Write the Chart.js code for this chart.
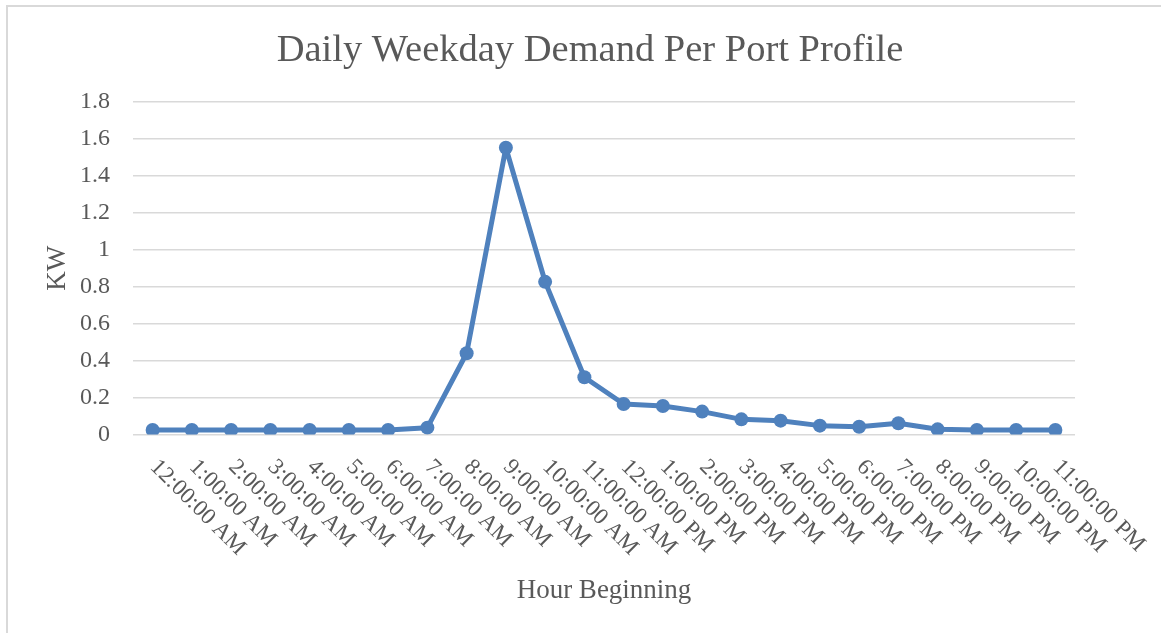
<!DOCTYPE html>
<html>
<head>
<meta charset="utf-8">
<script src="https://cdn.jsdelivr.net/npm/chart.js@4"></script>
<style>
  html, body { margin: 0; padding: 0; background: #fff; }
  #wrap { position: relative; width: 1161px; height: 633px; overflow: hidden; }
  #frame { position: absolute; left: 6px; top: 5px; width: 1200px; height: 700px;
           border: 2px solid #d9d9d9; pointer-events: none; }
</style>
</head>
<body>
<div id="wrap">
  <canvas id="chart" width="1161" height="633"></canvas>
  <div id="frame"></div>
</div>
<script>
// hours of the day
var hours = [
  "12:00:00 AM", "1:00:00 AM", "2:00:00 AM", "3:00:00 AM", "4:00:00 AM", "5:00:00 AM",
  "6:00:00 AM", "7:00:00 AM", "8:00:00 AM", "9:00:00 AM", "10:00:00 AM", "11:00:00 AM",
  "12:00:00 PM", "1:00:00 PM", "2:00:00 PM", "3:00:00 PM", "4:00:00 PM", "5:00:00 PM",
  "6:00:00 PM", "7:00:00 PM", "8:00:00 PM", "9:00:00 PM", "10:00:00 PM", "11:00:00 PM"
];

// kW per port
var demand = [
  0.024, 0.024, 0.024, 0.024, 0.024, 0.024, 0.024, 0.037, 0.44, 1.553, 0.827, 0.31,
  0.165, 0.154, 0.124, 0.082, 0.075, 0.048, 0.042, 0.061, 0.028, 0.024, 0.024, 0.024
];

var yTickLabels = ["0", "0.2", "0.4", "0.6", "0.8", "1", "1.2", "1.4", "1.6", "1.8"];

var textColor = "#595959";
var serif = "'Liberation Serif', 'Times New Roman', serif";

// x labels rotated downward from each tick (Chart.js only rotates the other way)
var slantLabels = {
  id: "slantLabels",
  afterDraw: function (chart) {
    var xs = chart.scales.x;
    var ctx = chart.ctx;
    ctx.save();
    ctx.font = "23px " + serif;
    ctx.fillStyle = textColor;
    ctx.textAlign = "left";
    ctx.textBaseline = "middle";
    for (var i = 0; i < hours.length; i++) {
      var x = xs.getPixelForTick(i);
      ctx.save();
      ctx.translate(x + 1, xs.top + 29);
      ctx.rotate(Math.PI / 4);
      ctx.fillText(hours[i], 0, 0);
      ctx.restore();
    }
    ctx.restore();
  },
};

var ctx = document.getElementById("chart").getContext("2d");
var graph = new Chart(ctx, {
  type: "line",
  data: {
    labels: hours,
    datasets: [
      {
        label: "KW",
        data: demand,
        borderColor: "#4f81bd",
        backgroundColor: "#4f81bd",
        borderWidth: 5,
        borderJoinStyle: "round",
        borderCapStyle: "round",
        pointRadius: 7,
        pointBorderWidth: 0,
        pointBackgroundColor: "#4f81bd",
        tension: 0,
      },
    ],
  },
  options: {
    responsive: false,
    animation: false,
    layout: {
      padding: { left: 19, right: 0, top: 0, bottom: 0 },
    },
    plugins: {
      legend: { display: false },
      tooltip: { enabled: false },
      title: {
        display: true,
        text: "Daily Weekday Demand Per Port Profile",
        color: textColor,
        font: { family: serif, size: 38.5, weight: "normal" },
        padding: { top: 28, bottom: 28 },
      },
    },
    scales: {
      x: {
        offset: true,
        grid: { display: false },
        border: { display: false },
        ticks: { display: false },
        title: {
          display: true,
          text: "Hour Beginning",
          color: textColor,
          font: { family: serif, size: 27 },
          padding: { top: 0, bottom: 26 },
        },
        afterFit: function (scale) {
          scale.height = 198.5;
        },
      },
      y: {
        min: 0,
        max: 1.8,
        border: { display: false },
        grid: { color: "#d9d9d9", lineWidth: 1.5, drawTicks: false },
        ticks: {
          stepSize: 0.2,
          padding: 23,
          color: textColor,
          font: { family: serif, size: 24 },
          callback: function (value, index) {
            return yTickLabels[index];
          },
        },
        title: {
          display: true,
          text: "KW",
          color: textColor,
          font: { family: serif, size: 27 },
          padding: { top: 23, bottom: 0 },
        },
        afterFit: function (scale) {
          scale.width = 114;
        },
      },
      // empty space on the right of the plot
      yRight: {
        type: "linear",
        position: "right",
        grid: { display: false },
        border: { display: false },
        ticks: { display: false },
        afterFit: function (scale) {
          scale.width = 86;
        },
      },
    },
  },
  plugins: [slantLabels],
});
</script>
</body>
</html>
